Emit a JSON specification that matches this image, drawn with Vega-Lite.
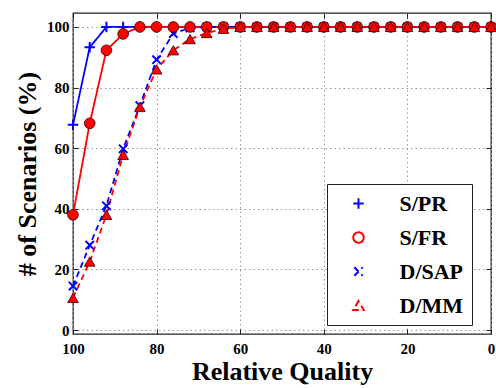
{
  "$schema": "https://vega.github.io/schema/vega-lite/v6.json",
  "width": 418,
  "height": 321,
  "autosize": {"type": "none"},
  "padding": {"left": 73, "top": 13, "right": 5, "bottom": 54},
  "config": {
    "view": {"stroke": "#222", "strokeWidth": 1.3},
    "font": "Liberation Serif",
    "axis": {
      "labelFont": "Liberation Serif", "labelFontWeight": "bold", "labelFontSize": 15, "labelColor": "#000",
      "titleFont": "Liberation Serif", "titleFontWeight": "bold", "titleFontSize": 26, "titleColor": "#000",
      "domain": false, "tickColor": "#222", "tickSize": -5, "tickWidth": 1,
      "gridColor": "#999", "gridDash": [1.5, 3], "gridWidth": 1
    }
  },
  "data": {"values": [
    {"quality": 100, "series": "S/PR", "pct": 67.7}, {"quality": 96, "series": "S/PR", "pct": 93.3}, {"quality": 92, "series": "S/PR", "pct": 100}, {"quality": 88, "series": "S/PR", "pct": 100}, {"quality": 84, "series": "S/PR", "pct": 100}, {"quality": 80, "series": "S/PR", "pct": 100}, {"quality": 76, "series": "S/PR", "pct": 100}, {"quality": 72, "series": "S/PR", "pct": 100}, {"quality": 68, "series": "S/PR", "pct": 100}, {"quality": 64, "series": "S/PR", "pct": 100}, {"quality": 60, "series": "S/PR", "pct": 100}, {"quality": 56, "series": "S/PR", "pct": 100}, {"quality": 52, "series": "S/PR", "pct": 100}, {"quality": 48, "series": "S/PR", "pct": 100}, {"quality": 44, "series": "S/PR", "pct": 100}, {"quality": 40, "series": "S/PR", "pct": 100}, {"quality": 36, "series": "S/PR", "pct": 100}, {"quality": 32, "series": "S/PR", "pct": 100}, {"quality": 28, "series": "S/PR", "pct": 100}, {"quality": 24, "series": "S/PR", "pct": 100}, {"quality": 20, "series": "S/PR", "pct": 100}, {"quality": 16, "series": "S/PR", "pct": 100}, {"quality": 12, "series": "S/PR", "pct": 100}, {"quality": 8, "series": "S/PR", "pct": 100}, {"quality": 4, "series": "S/PR", "pct": 100}, {"quality": 0, "series": "S/PR", "pct": 100},
    {"quality": 100, "series": "S/FR", "pct": 38}, {"quality": 96, "series": "S/FR", "pct": 68.2}, {"quality": 92, "series": "S/FR", "pct": 92.3}, {"quality": 88, "series": "S/FR", "pct": 97.7}, {"quality": 84, "series": "S/FR", "pct": 100}, {"quality": 80, "series": "S/FR", "pct": 100}, {"quality": 76, "series": "S/FR", "pct": 100}, {"quality": 72, "series": "S/FR", "pct": 100}, {"quality": 68, "series": "S/FR", "pct": 100}, {"quality": 64, "series": "S/FR", "pct": 100}, {"quality": 60, "series": "S/FR", "pct": 100}, {"quality": 56, "series": "S/FR", "pct": 100}, {"quality": 52, "series": "S/FR", "pct": 100}, {"quality": 48, "series": "S/FR", "pct": 100}, {"quality": 44, "series": "S/FR", "pct": 100}, {"quality": 40, "series": "S/FR", "pct": 100}, {"quality": 36, "series": "S/FR", "pct": 100}, {"quality": 32, "series": "S/FR", "pct": 100}, {"quality": 28, "series": "S/FR", "pct": 100}, {"quality": 24, "series": "S/FR", "pct": 100}, {"quality": 20, "series": "S/FR", "pct": 100}, {"quality": 16, "series": "S/FR", "pct": 100}, {"quality": 12, "series": "S/FR", "pct": 100}, {"quality": 8, "series": "S/FR", "pct": 100}, {"quality": 4, "series": "S/FR", "pct": 100}, {"quality": 0, "series": "S/FR", "pct": 100},
    {"quality": 100, "series": "D/SAP", "pct": 14.5}, {"quality": 96, "series": "D/SAP", "pct": 28}, {"quality": 92, "series": "D/SAP", "pct": 41}, {"quality": 88, "series": "D/SAP", "pct": 59.8}, {"quality": 84, "series": "D/SAP", "pct": 74}, {"quality": 80, "series": "D/SAP", "pct": 89.2}, {"quality": 76, "series": "D/SAP", "pct": 97.8}, {"quality": 72, "series": "D/SAP", "pct": 99.7}, {"quality": 68, "series": "D/SAP", "pct": 100}, {"quality": 64, "series": "D/SAP", "pct": 100}, {"quality": 60, "series": "D/SAP", "pct": 100}, {"quality": 56, "series": "D/SAP", "pct": 100}, {"quality": 52, "series": "D/SAP", "pct": 100}, {"quality": 48, "series": "D/SAP", "pct": 100}, {"quality": 44, "series": "D/SAP", "pct": 100}, {"quality": 40, "series": "D/SAP", "pct": 100}, {"quality": 36, "series": "D/SAP", "pct": 100}, {"quality": 32, "series": "D/SAP", "pct": 100}, {"quality": 28, "series": "D/SAP", "pct": 100}, {"quality": 24, "series": "D/SAP", "pct": 100}, {"quality": 20, "series": "D/SAP", "pct": 100}, {"quality": 16, "series": "D/SAP", "pct": 100}, {"quality": 12, "series": "D/SAP", "pct": 100}, {"quality": 8, "series": "D/SAP", "pct": 100}, {"quality": 4, "series": "D/SAP", "pct": 100}, {"quality": 0, "series": "D/SAP", "pct": 100},
    {"quality": 100, "series": "D/MM", "pct": 10.6}, {"quality": 96, "series": "D/MM", "pct": 22.6}, {"quality": 92, "series": "D/MM", "pct": 38}, {"quality": 88, "series": "D/MM", "pct": 57.8}, {"quality": 84, "series": "D/MM", "pct": 73.6}, {"quality": 80, "series": "D/MM", "pct": 86}, {"quality": 76, "series": "D/MM", "pct": 92.3}, {"quality": 72, "series": "D/MM", "pct": 96}, {"quality": 68, "series": "D/MM", "pct": 98}, {"quality": 64, "series": "D/MM", "pct": 99.4}, {"quality": 60, "series": "D/MM", "pct": 100}, {"quality": 56, "series": "D/MM", "pct": 100}, {"quality": 52, "series": "D/MM", "pct": 100}, {"quality": 48, "series": "D/MM", "pct": 100}, {"quality": 44, "series": "D/MM", "pct": 100}, {"quality": 40, "series": "D/MM", "pct": 100}, {"quality": 36, "series": "D/MM", "pct": 100}, {"quality": 32, "series": "D/MM", "pct": 100}, {"quality": 28, "series": "D/MM", "pct": 100}, {"quality": 24, "series": "D/MM", "pct": 100}, {"quality": 20, "series": "D/MM", "pct": 100}, {"quality": 16, "series": "D/MM", "pct": 100}, {"quality": 12, "series": "D/MM", "pct": 100}, {"quality": 8, "series": "D/MM", "pct": 100}, {"quality": 4, "series": "D/MM", "pct": 100}, {"quality": 0, "series": "D/MM", "pct": 100}
  ]},
  "resolve": {"axis": {"x": "independent", "y": "independent"}},
  "layer": [
    {
      "mark": {"type": "line", "strokeWidth": 1.8},
      "encoding": {
        "x": {"field": "quality", "type": "quantitative", "scale": {"domain": [100, 0], "nice": false, "zero": false},
              "axis": {"title": "Relative Quality", "values": [100, 80, 60, 40, 20, 0], "grid": true, "labelPadding": 12, "titlePadding": 2, "labelFlush": false}},
        "y": {"field": "pct", "type": "quantitative", "scale": {"domain": [-1.3, 104.6], "nice": false, "zero": false},
              "axis": {"title": "# of Scenarios (%)", "values": [0, 20, 40, 60, 80, 100], "grid": true, "labelPadding": 9, "titlePadding": 6}},
        "color": {"field": "series", "type": "nominal",
          "scale": {"domain": ["S/PR", "S/FR", "D/SAP", "D/MM"], "range": ["#0000ff", "#ff0000", "#0000ff", "#ff0000"]},
          "legend": {
            "title": null, "orient": "none", "legendX": 254, "legendY": 171, "direction": "vertical",
            "padding": 8.5, "strokeColor": "#222", "fillColor": "#ffffff", "cornerRadius": 0,
            "labelFont": "Liberation Serif", "labelFontWeight": "bold", "labelFontSize": 22, "labelColor": "#000",
            "symbolSize": 110, "symbolStrokeWidth": 2, "symbolDash": [1, 0], "symbolOffset": 12, "labelOffset": 30, "rowPadding": 12
          }},
        "strokeDash": {"field": "series", "type": "nominal",
          "scale": {"domain": ["S/PR", "S/FR", "D/SAP", "D/MM"], "range": [[1, 0], [1, 0], [6, 4], [6, 4]]}, "legend": null}
      }
    },
    {
      "transform": [{"filter": "datum.series === 'S/PR' || datum.series === 'D/SAP'"}],
      "mark": {"type": "point", "filled": false, "stroke": "#0000ff", "strokeWidth": 2, "size": 110, "opacity": 1},
      "encoding": {
        "x": {"field": "quality", "type": "quantitative", "scale": {"domain": [100, 0], "nice": false, "zero": false}, "axis": null},
        "y": {"field": "pct", "type": "quantitative", "scale": {"domain": [-1.3, 104.6], "nice": false, "zero": false}, "axis": null},
        "shape": {"field": "series", "type": "nominal",
          "scale": {"domain": ["S/PR", "S/FR", "D/SAP", "D/MM"], "range": ["M-1,0L1,0M0,-1L0,1", "circle", "M-0.8,-0.8L0.8,0.8M-0.8,0.8L0.8,-0.8", "triangle-up"]}, "legend": null}
      }
    },
    {
      "transform": [{"filter": "datum.series === 'S/FR' || datum.series === 'D/MM'"}],
      "mark": {"type": "point", "filled": true, "fill": "#ff0000", "stroke": "#330000", "strokeWidth": 0.8, "size": 115, "opacity": 1},
      "encoding": {
        "x": {"field": "quality", "type": "quantitative", "scale": {"domain": [100, 0], "nice": false, "zero": false},
              "axis": {"orient": "top", "title": null, "labels": false, "grid": false, "values": [100, 80, 60, 40, 20, 0]}},
        "y": {"field": "pct", "type": "quantitative", "scale": {"domain": [-1.3, 104.6], "nice": false, "zero": false},
              "axis": {"orient": "right", "title": null, "labels": false, "grid": false, "values": [0, 20, 40, 60, 80, 100]}},
        "shape": {"field": "series", "type": "nominal",
          "scale": {"domain": ["S/PR", "S/FR", "D/SAP", "D/MM"], "range": ["M-1,0L1,0M0,-1L0,1", "circle", "M-0.8,-0.8L0.8,0.8M-0.8,0.8L0.8,-0.8", "triangle-up"]}, "legend": null}
      }
    }
  ]
}
